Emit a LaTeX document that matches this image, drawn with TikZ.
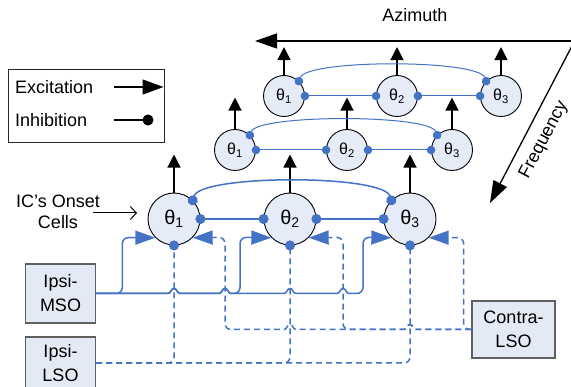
\documentclass[tikz,border=0pt]{standalone}
\usepackage{fontspec}
\setmainfont{Liberation Sans}
\usetikzlibrary{arrows.meta}
\definecolor{wire}{HTML}{4472C4}
\definecolor{cellfill}{HTML}{E6ECF7}
\definecolor{boxfill}{HTML}{E4EAF5}
\definecolor{boxline}{HTML}{606060}

% theta with a subscript index
\newcommand{\cellname}[1]{θ\textsubscript{#1}}
% small jump of a wire over a crossing wire, heading right / left
\newcommand{\hopright}[2]{-- ({#1-6},#2) .. controls ({#1-3},#2) and ({#1-3},{#2-5}) .. (#1,{#2-5}) .. controls ({#1+3},{#2-5}) and ({#1+3},#2) .. ({#1+6},#2)}
\newcommand{\hopleft}[2]{-- ({#1+6},#2) .. controls ({#1+3},#2) and ({#1+3},{#2-5}) .. (#1,{#2-5}) .. controls ({#1-3},{#2-5}) and ({#1-3},#2) .. ({#1-6},#2)}

\begin{document}
\begin{tikzpicture}[x=1pt,y=-1pt,
  bigcell/.style={circle,draw=black,line width=0.9pt,fill=cellfill,
    minimum size=52pt,inner sep=0pt,font=\fontsize{20}{22}\selectfont},
  smallcell/.style={circle,draw=black,line width=0.9pt,fill=cellfill,
    minimum size=41pt,inner sep=0pt,font=\fontsize{16}{18}\selectfont},
  inbox/.style={rectangle,draw=boxline,line width=1.1pt,fill=boxfill,
    align=center,inner sep=0pt,font=\fontsize{18}{24}\selectfont},
  txt/.style={inner sep=0pt,font=\fontsize{18}{21}\selectfont},
  output/.style={draw=black,line width=1.3pt,-{Triangle[length=13pt,width=13pt]}},
  axis/.style={draw=black,line width=1.3pt,-{Triangle[length=22pt,width=15pt]}},
  inhbig/.style={draw=wire,line width=1.5pt,
    {Circle[length=10pt]}-{Circle[length=10pt]},
    shorten <=-5pt,shorten >=-5pt},
  inhsmall/.style={draw=wire,line width=1pt,
    {Circle[length=8.5pt]}-{Circle[length=8.5pt]},
    shorten <=-4.25pt,shorten >=-4.25pt},
  excite/.style={draw=wire,line width=1.5pt,-{Triangle[length=20pt,width=14pt]}},
  excdash/.style={excite,dash pattern=on 6pt off 4pt},
  inhdash/.style={draw=wire,line width=1.5pt,dash pattern=on 6pt off 4pt,
    -{Circle[length=10pt]},shorten >=-5pt}
]
\useasboundingbox (0,0) rectangle (571,387);

% ---------- cells ----------
\node[bigcell] (B1) at (174,219) {\cellname{1}};
\node[bigcell] (B2) at (290,219) {\cellname{2}};
\node[bigcell] (B3) at (410,219) {\cellname{3}};
\node[smallcell] (M1) at (235,150) {\cellname{1}};
\node[smallcell] (M2) at (347,150) {\cellname{2}};
\node[smallcell] (M3) at (452,150) {\cellname{3}};
\node[smallcell] (T1) at (284,96) {\cellname{1}};
\node[smallcell] (T2) at (397,96) {\cellname{2}};
\node[smallcell] (T3) at (501,96) {\cellname{3}};

% ---------- outputs ----------
\foreach \c in {B1,B2,B3} \draw[output] (\c.north) -- ++(0,-38);
\foreach \c in {M1,M2,M3} \draw[output] (\c.north) -- ++(0,-31.5);
\foreach \c in {T1,T2,T3} \draw[output] (\c.north) -- ++(0,-28);

% ---------- lateral inhibition within each row ----------
\draw[inhbig] (B1.east) -- (B2.west);
\draw[inhbig] (B2.east) -- (B3.west);
\draw[inhbig] (B1.45) .. controls +(8,-26) and +(-8,-26) .. (B3.135);
\draw[inhsmall] (M1.east) -- (M2.west);
\draw[inhsmall] (M2.east) -- (M3.west);
\draw[inhsmall] (M1.45) .. controls +(8,-21) and +(-8,-21) .. (M3.135);
\draw[inhsmall] (T1.east) -- (T2.west);
\draw[inhsmall] (T2.east) -- (T3.west);
\draw[inhsmall] (T1.45) .. controls +(8,-22) and +(-8,-22) .. (T3.135);

% ---------- input nuclei ----------
\node[inbox,minimum width=70pt,minimum height=59pt] (MSO) at (60.5,293.5) {Ipsi-\\MSO};
\node[inbox,minimum width=70pt,minimum height=52pt] (LSO) at (60.5,363) {Ipsi-\\LSO};
\node[inbox,minimum width=83pt,minimum height=57pt] (CLSO) at (513.5,329.5) {Contra-\\LSO};

% Ipsi-MSO excitation
\draw[excite,rounded corners=6pt] (MSO.east) -| ([xshift=-33pt]B1.225) -- (B1.225);
\draw[excite] (MSO.east) \hopright{174}{293.5} \hopright{225}{293.5}
  [rounded corners=6pt] -- (240,293.5) -- (240,237.4) -- (B2.225);
\draw[excite] (MSO.east) \hopright{174}{293.5} \hopright{225}{293.5}
  \hopright{290}{293.5} \hopright{343}{293.5}
  [rounded corners=6pt] -- (363,293.5) -- (363,237.4) -- (B3.225);

% Contra-LSO excitation
\draw[excdash,rounded corners=6pt] (CLSO.west) -| ([xshift=35pt]B3.-45) -- (B3.-45);
\draw[excdash] (CLSO.west) \hopleft{410}{329.5}
  [rounded corners=6pt] -- (343,329.5) -- (343,237.4) -- (B2.-45);
\draw[excdash] (CLSO.west) \hopleft{410}{329.5} \hopleft{290}{329.5}
  [rounded corners=6pt] -- (225,329.5) -- (225,237.4) -- (B1.-45);

% Ipsi-LSO inhibition
\draw[inhdash,rounded corners=6pt] (LSO.east) -| (B1.south);
\draw[inhdash,rounded corners=6pt] (LSO.east) -| (B2.south);
\draw[inhdash,rounded corners=6pt] (LSO.east) -| (B3.south);

% ---------- map axes ----------
\coordinate (azR) at (573,41);
\coordinate (azL) at (255,41);
\draw[axis] (azR) -- (azL);
\node[txt] (aztext) at (415,15) {Azimuth};
\coordinate (frT) at (573,44);
\coordinate (frB) at (490,203);
\draw[axis] (frT) -- (frB);
\node[txt,rotate=62.4] (frtext) at (544,140) {Frequency};

% ---------- onset-cell label ----------
\node[txt,align=center] (ic) at (58,212) {IC’s Onset\\Cells};
\coordinate (icA) at (93,213);
\coordinate (icB) at (137,213);
\draw[line width=1pt,-{Straight Barb[length=6pt,width=13pt]}] (icA) -- (icB);

% ---------- legend ----------
\node[draw=black!85,line width=1pt,minimum width=156pt,minimum height=73pt,inner sep=0pt]
  (legend) at (86,106.5) {};
\node[txt,anchor=west] (lexc) at (15,87) {Excitation};
\node[txt,anchor=west] (linh) at (15,120) {Inhibition};
\coordinate (exS) at (114,87);
\coordinate (exE) at (163.5,87);
\draw[line width=1.3pt,-{Triangle[length=21pt,width=15pt]}] (exS) -- (exE);
\coordinate (inS) at (114,120);
\coordinate (inE) at (148,120);
\draw[line width=1.3pt,-{Circle[length=11pt]},shorten >=-5.5pt] (inS) -- (inE);
\end{tikzpicture}
\end{document}
